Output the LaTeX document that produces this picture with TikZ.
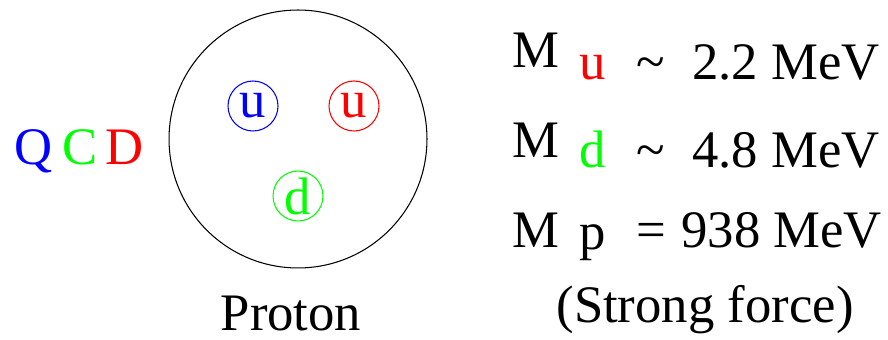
\documentclass[tikz,border=0pt]{standalone}
\usepackage{fontspec}
\setmainfont{LiberationSerif}[Extension=.ttf,UprightFont=*-Regular,BoldFont=*-Bold,
  ItalicFont=*-Italic,BoldItalicFont=*-BoldItalic]
\usepackage{tikz}
\usetikzlibrary{positioning}
\definecolor{qblue}{RGB}{0,0,255}
\definecolor{qgreen}{RGB}{0,255,0}
\definecolor{qred}{RGB}{255,0,0}

\begin{document}
\begin{tikzpicture}[x=0.02cm,y=-0.02cm,
  txt/.style={inner sep=0pt,anchor=base west,font=\rmfamily\fontsize{30}{36}\selectfont},
  quark/.style={circle,draw,line width=0.6pt,minimum size=1cm,inner sep=0pt,
                font=\rmfamily\fontsize{30}{36}\selectfont}]
\useasboundingbox (0,0) rectangle (888,340);
% QCD label
\node[txt,text=qblue]  (Q) at (14,165) {Q};
\node[txt,text=qgreen] (C) at (62,165) {C};
\node[txt,text=qred]   (D) at (105,165) {D};
% proton with its quarks
\node[circle,draw,line width=0.6pt,minimum size=5.16cm,inner sep=0pt] (proton) at (298,139) {};
\node[quark,qblue,text=qblue]   (ub) at (253,106) {u};
\node[quark,qred,text=qred]     (ur) at (354,106) {u};
\node[quark,qgreen,text=qgreen] (dg) at (298,196) {d};
\node[txt,anchor=base] (plabel) at (291,331) {Proton};
% masses
\node[txt] (Mu) at (512,68) {M};
\node[txt,text=qred] (su) at (579,80) {u};
\node[txt] (tu) at (636,80) {\char`\~};
\node[txt] (vu) at (692,80) {2.2 MeV};
\node[txt] (Md) at (512,158) {M};
\node[txt,text=qgreen] (sd) at (579,168) {d};
\node[txt] (td) at (636,168) {\char`\~};
\node[txt] (vd) at (692,168) {4.8 MeV};
\node[txt] (Mp) at (512,248) {M};
\node[txt] (sp) at (579,250) {p};
\node[txt] (ep) at (636,248) {=};
\node[txt] (vp) at (681,248) {938 MeV};
\node[txt,anchor=base] (force) at (705,323) {(Strong force)};
\end{tikzpicture}
\end{document}
